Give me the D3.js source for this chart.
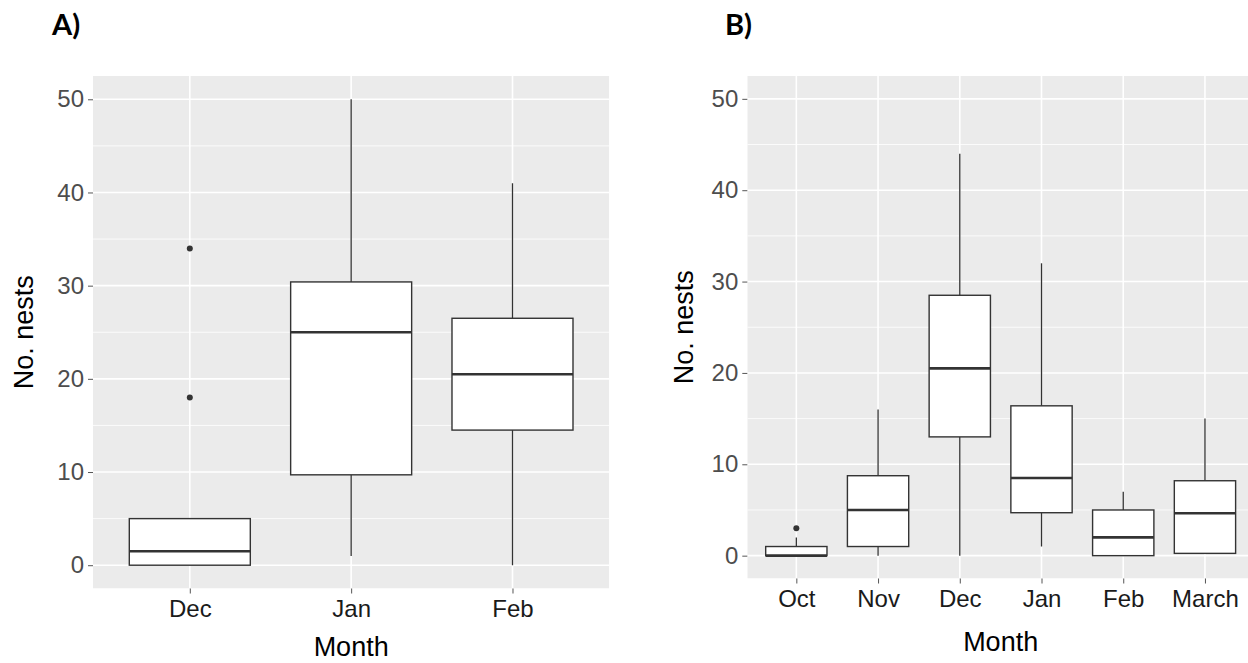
<!DOCTYPE html>
<html>
<head>
<meta charset="utf-8">
<script src="https://cdn.jsdelivr.net/npm/d3@7"></script>
<style>
  html, body { margin: 0; padding: 0; background: #fff; }
  svg { display: block; }
</style>
</head>
<body>
<svg id="chart" width="1248" height="663"></svg>
<script>
// ---- data ----
const yTicks = [0, 10, 20, 30, 40, 50];
const yMinor = [5, 15, 25, 35, 45];

// Panel A
const monthsA = ["Dec", "Jan", "Feb"];
const lowA    = [0,   1,    0];
const q1A     = [0,   9.7,  14.5];
const medA    = [1.5, 25,   20.5];
const q3A     = [5,   30.4, 26.5];
const highA   = [5,   50,   41];
const outMonthsA = ["Dec", "Dec"];
const outValuesA = [34, 18];

// Panel B
const monthsB = ["Oct", "Nov", "Dec", "Jan", "Feb", "March"];
const lowB    = [0, 0,    0,    1,    0, 0.25];
const q1B     = [0, 1,    13,   4.7,  0, 0.25];
const medB    = [0, 5,    20.5, 8.5,  2, 4.65];
const q3B     = [1, 8.75, 28.5, 16.4, 5, 8.2];
const highB   = [2, 16,   44,   32,   7, 15];
const outMonthsB = ["Oct"];
const outValuesB = [3];

const svg = d3.select("#chart");
svg.append("rect").attr("width", 1248).attr("height", 663).attr("fill", "#fff");

// draws one ggplot-style boxplot panel
function drawPanel(opts) {
  const { left, right, top, bottom, months, low, q1, med, q3, high, outM, outV, tag, tagX, titleY, yLabelX } = opts;

  const x = d3.scalePoint().domain(months).range([left, right]).padding(0.6);
  const y = d3.scaleLinear().domain([-2.5, 52.5]).range([bottom, top]);
  const step = x.step();
  const boxW = step * 0.75;

  const clipId = "clip-" + tag.replace(/\W/g, "");
  svg.append("clipPath").attr("id", clipId)
    .append("rect").attr("x", left).attr("y", top).attr("width", right - left).attr("height", bottom - top);

  const g = svg.append("g").attr("clip-path", `url(#${clipId})`);

  g.append("rect")
    .attr("x", left).attr("y", top)
    .attr("width", right - left).attr("height", bottom - top)
    .attr("fill", "#ebebeb");

  // grid
  g.selectAll(".minor").data(yMinor).join("line")
    .attr("x1", left).attr("x2", right)
    .attr("y1", d => y(d)).attr("y2", d => y(d))
    .attr("stroke", "#fff").attr("stroke-width", 0.8);
  g.selectAll(".major").data(yTicks).join("line")
    .attr("x1", left).attr("x2", right)
    .attr("y1", d => y(d)).attr("y2", d => y(d))
    .attr("stroke", "#fff").attr("stroke-width", 1.6);
  g.selectAll(".vmajor").data(months).join("line")
    .attr("x1", d => x(d)).attr("x2", d => x(d))
    .attr("y1", top).attr("y2", bottom)
    .attr("stroke", "#fff").attr("stroke-width", 1.6);

  const stroke = "#333";
  const rows = months.map((m, i) => ({ m, low: low[i], q1: q1[i], med: med[i], q3: q3[i], high: high[i] }));

  // whiskers
  g.selectAll(".wlo").data(rows.filter(d => d.low < d.q1)).join("line")
    .attr("x1", d => x(d.m)).attr("x2", d => x(d.m))
    .attr("y1", d => y(d.low)).attr("y2", d => y(d.q1))
    .attr("stroke", stroke).attr("stroke-width", 1.3);
  g.selectAll(".whi").data(rows.filter(d => d.high > d.q3)).join("line")
    .attr("x1", d => x(d.m)).attr("x2", d => x(d.m))
    .attr("y1", d => y(d.q3)).attr("y2", d => y(d.high))
    .attr("stroke", stroke).attr("stroke-width", 1.3);

  // boxes
  g.selectAll(".box").data(rows).join("rect")
    .attr("x", d => x(d.m) - boxW / 2)
    .attr("y", d => y(d.q3))
    .attr("width", boxW)
    .attr("height", d => y(d.q1) - y(d.q3))
    .attr("fill", "#fff").attr("stroke", stroke).attr("stroke-width", 1.4);

  g.selectAll(".med").data(rows).join("line")
    .attr("x1", d => x(d.m) - boxW / 2).attr("x2", d => x(d.m) + boxW / 2)
    .attr("y1", d => y(d.med)).attr("y2", d => y(d.med))
    .attr("stroke", stroke).attr("stroke-width", 2.6);

  // outliers
  g.selectAll(".out").data(outV).join("circle")
    .attr("cx", (d, i) => x(outM[i])).attr("cy", d => y(d))
    .attr("r", 3).attr("fill", stroke);

  // y axis
  const yAxis = svg.append("g")
    .attr("transform", `translate(${left},0)`)
    .call(d3.axisLeft(y).tickValues(yTicks).tickSize(5).tickPadding(4));
  yAxis.select(".domain").remove();
  yAxis.selectAll("line").attr("stroke", "#555");
  yAxis.selectAll("text")
    .attr("fill", "#4d4d4d")
    .style("font-family", "'Liberation Sans', Arial, sans-serif")
    .style("font-size", "24px");

  // x axis
  const xAxis = svg.append("g")
    .attr("transform", `translate(0,${bottom})`)
    .call(d3.axisBottom(x).tickSize(5).tickPadding(6));
  xAxis.select(".domain").remove();
  xAxis.selectAll("line").attr("stroke", "#555");
  xAxis.selectAll("text")
    .attr("fill", "#1a1a1a")
    .style("font-family", "'Liberation Sans', Arial, sans-serif")
    .style("font-size", "24px");

  // axis titles
  svg.append("text")
    .attr("x", (left + right) / 2)
    .attr("y", titleY)
    .attr("text-anchor", "middle")
    .attr("fill", "#000")
    .style("font-family", "'Liberation Sans', Arial, sans-serif")
    .style("font-size", "27px")
    .text("Month");

  svg.append("text")
    .attr("transform", `translate(${yLabelX},${(top + bottom) / 2}) rotate(-90)`)
    .attr("text-anchor", "middle")
    .attr("fill", "#000")
    .style("font-family", "'Liberation Sans', Arial, sans-serif")
    .style("font-size", "27px")
    .text("No. nests");

  // panel tag
  svg.append("text")
    .attr("x", tagX).attr("y", 35)
    .attr("fill", "#000")
    .style("font-family", "Lato, 'Open Sans', sans-serif")
    .style("font-weight", "700")
    .style("font-size", "29px")
    .text(tag);
}

drawPanel({
  left: 93, right: 609.3, top: 76, bottom: 588.5,
  months: monthsA, low: lowA, q1: q1A, med: medA, q3: q3A, high: highA,
  outM: outMonthsA, outV: outValuesA,
  tag: "A)", tagX: 52, titleY: 656, yLabelX: 33
});

drawPanel({
  left: 747.3, right: 1254, top: 76, bottom: 578.5,
  months: monthsB, low: lowB, q1: q1B, med: medB, q3: q3B, high: highB,
  outM: outMonthsB, outV: outValuesB,
  tag: "B)", tagX: 725, titleY: 651, yLabelX: 693
});
</script>
</body>
</html>
